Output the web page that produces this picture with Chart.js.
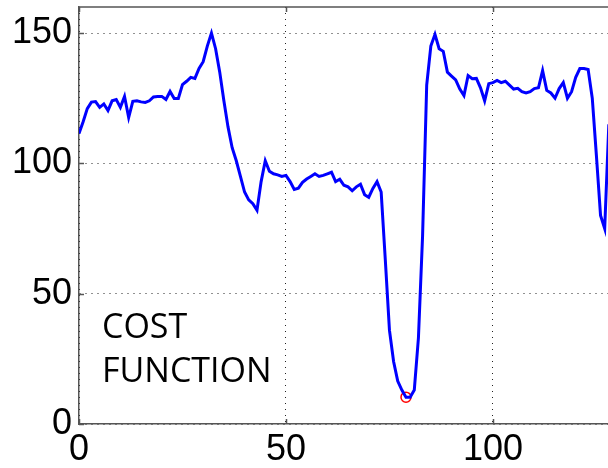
<!DOCTYPE html>
<html>
<head>
<meta charset="utf-8">
<script src="https://cdn.jsdelivr.net/npm/chart.js@4/dist/chart.umd.min.js"></script>
<style>
  html, body { margin: 0; padding: 0; background: #fff; }
  #wrap { width: 608px; height: 468px; position: relative; }
</style>
</head>
<body>
<div id="wrap"><canvas id="cost-chart"></canvas></div>
<script>
    'use strict';

    // cost value for every shift index 0..128
    var costValues = [
        111.5, 116, 121, 123.5, 123.7, 121.5, 122.8, 120.3, 124, 124.5,
        121.5, 125.7, 117.6, 123.8, 124, 123.6, 123.4, 124, 125.5, 125.7,
        125.7, 124.5, 127.6, 124.9, 124.9, 130.2, 131.5, 133, 132.6, 136.4,
        139, 145, 150, 144, 135, 124, 114, 106, 101, 95,
        89, 86, 84.5, 82, 93, 101, 97, 96, 95.6, 95,
        95.4, 93, 90, 90.5, 92.7, 94, 95, 96, 95, 95.4,
        96, 96.6, 93, 93.9, 91.6, 91, 89.5, 91, 92, 88,
        87, 90.4, 93, 89, 63, 36, 24, 16.5, 13, 10.3,
        10.3, 13, 33, 72, 130, 145, 149.5, 144, 143, 135,
        133.5, 132, 128.5, 126, 133.7, 132.5, 132.6, 129, 124, 130.6,
        131, 131.8, 131, 131.5, 130, 128.5, 128.8, 127.5, 127, 127.5,
        128.7, 129, 135.6, 128, 127, 125, 128.7, 131, 125, 127.5,
        133, 136.4, 136.4, 136, 125, 103, 80, 75, 115
    ];
    var minIndex = [79];
    var minValue = [10.3];
    var xTicks = [0, 50, 100];
    var yTicks = [0, 50, 100, 150];
    var labelLines = ['COST', 'FUNCTION'];

    var linePoints = costValues.map(function (v, i) { return { x: i, y: v }; });
    var minPoints = minIndex.map(function (x, i) { return { x: x, y: minValue[i] }; });

    // matlab-ish frame: top border, inward tick marks, overlay text
    var framePlugin = {
        id: 'frame',
        afterDraw: function (chart) {
            var c = chart.ctx, a = chart.chartArea;
            var sx = chart.scales.x, sy = chart.scales.y;
            c.save();
            c.strokeStyle = '#555';
            c.lineWidth = 1.5;
            c.beginPath();
            c.moveTo(a.left, a.top);
            c.lineTo(a.right, a.top);
            xTicks.forEach(function (t) {
                var px = Math.round(sx.getPixelForValue(t)) + 0.5;
                c.moveTo(px, a.bottom); c.lineTo(px, a.bottom - 5);
                c.moveTo(px, a.top); c.lineTo(px, a.top + 5);
            });
            yTicks.forEach(function (t) {
                var py = Math.round(sy.getPixelForValue(t)) + 0.5;
                c.moveTo(a.left, py); c.lineTo(a.left + 5, py);
            });
            c.stroke();

            c.fillStyle = '#000';
            c.font = '34px "Open Sans"';
            c.textAlign = 'left';
            c.textBaseline = 'alphabetic';
            labelLines.forEach(function (s, i) {
                c.fillText(s, 102, 338 + i * 44);
            });
            c.restore();
        }
    };

    var tickFont = { family: '"Liberation Sans", Arial', size: 36 };

    function noPad(axis) {
        axis.paddingTop = 0;
        axis.paddingBottom = 0;
        axis.paddingLeft = 0;
        axis.paddingRight = 0;
    }

    new Chart(document.getElementById('cost-chart'), {
        type: 'line',
        data: {
            datasets: [{
                label: 'cost',
                data: linePoints,
                borderColor: '#0000ff',
                borderWidth: 3,
                pointRadius: 0,
                tension: 0,
                fill: false
            }, {
                label: 'min',
                data: minPoints,
                showLine: false,
                pointRadius: 5,
                pointBorderColor: '#ff0000',
                pointBackgroundColor: 'rgba(0,0,0,0)',
                pointBorderWidth: 1.5
            }]
        },
        options: {
            responsive: true,
            maintainAspectRatio: false,
            animation: false,
            layout: {
                autoPadding: false,
                padding: { left: 0, right: 0, top: 7, bottom: 0 }
            },
            plugins: {
                legend: { display: false },
                tooltip: { enabled: false }
            },
            scales: {
                x: {
                    type: 'linear',
                    min: 0,
                    max: 127.8,
                    afterBuildTicks: function (axis) {
                        axis.ticks = xTicks.map(function (v) { return { value: v }; });
                    },
                    afterFit: function (axis) { axis.height = 44; noPad(axis); },
                    grid: {
                        color: '#222',
                        lineWidth: 1,
                        drawTicks: false
                    },
                    border: { display: true, color: '#555', width: 1.5, dash: [1, 5] },
                    ticks: {
                        padding: 4,
                        color: '#000',
                        font: tickFont,
                        maxRotation: 0
                    }
                },
                y: {
                    min: 0,
                    max: 160,
                    afterBuildTicks: function (axis) {
                        axis.ticks = yTicks.map(function (v) { return { value: v }; });
                    },
                    afterFit: function (axis) { axis.width = 79; noPad(axis); },
                    grid: {
                        color: '#222',
                        lineWidth: 1,
                        drawTicks: false
                    },
                    border: { display: true, color: '#555', width: 1.5, dash: [1, 5] },
                    ticks: {
                        padding: 7,
                        color: '#000',
                        font: tickFont
                    }
                }
            }
        },
        plugins: [framePlugin]
    });
</script>
</body>
</html>
